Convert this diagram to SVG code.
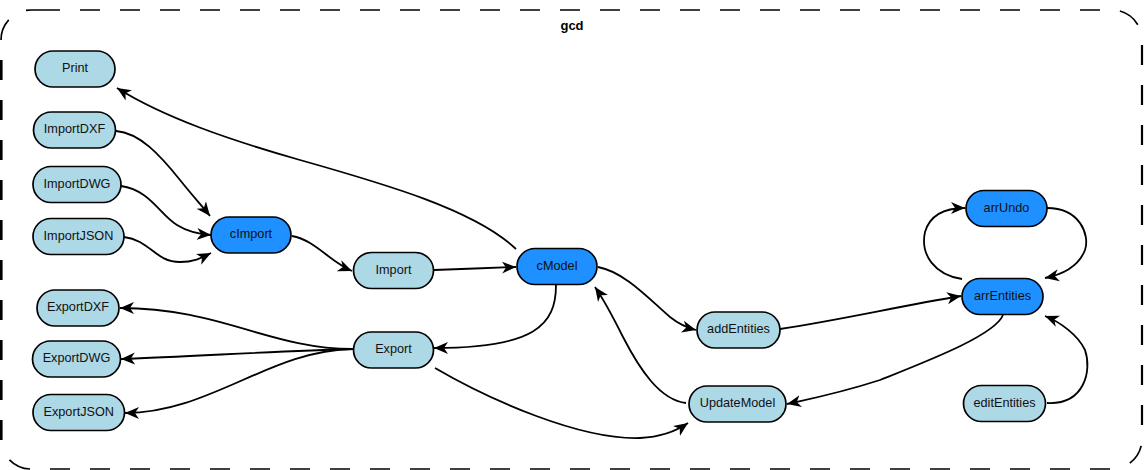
<svg xmlns="http://www.w3.org/2000/svg" width="1144" height="470" viewBox="0 0 1144 470">
<defs>
<style>
.bd{fill:none;stroke:#000;stroke-width:1.7}
.n rect{stroke:#000;stroke-width:1.7}
.l rect{fill:#add8e6}
.d rect{fill:#1e90ff}
.n text{font-family:"Liberation Sans",Arial,sans-serif;font-size:12.7px;fill:#111;text-anchor:middle}
.e path{fill:none;stroke:#000;stroke-width:1.8;marker-end:url(#a)}
.t{font-family:"Liberation Sans",Arial,sans-serif;font-size:13px;font-weight:bold;text-anchor:middle;fill:#000}
</style>
<marker id="a" viewBox="-14 -6.5 15 13" refX="0" refY="0" markerWidth="15" markerHeight="13" markerUnits="userSpaceOnUse" orient="auto">
<path d="M0,0 L-14,-6 L-10,0 L-14,6 Z" fill="#000"/>
</marker>
</defs>
<rect width="1144" height="470" fill="#fff"/>
<g id="cluster_gcd">
<path class="bd" d="M40,10 H1100" stroke-dasharray="20 20"/>
<path class="bd" d="M1,40 A30,30 0 0 1 31,10 H40" stroke-dasharray="22 20 100"/>
<path class="bd" d="M1100,10 H1112 A30,30 0 0 1 1142,40 V45" stroke-dasharray="0 20 23 100"/>
<path class="bd" d="M1142,45 V439" stroke-dasharray="20 20" style="stroke-width:2.2"/>
<path class="bd" d="M1142,439 A30,30 0 0 1 1112,469" stroke-dasharray="0 7 21 100"/>
<path class="bd" d="M1110,469 H50" stroke-dasharray="20 20"/>
<path class="bd" d="M31,469 A30,30 0 0 1 1,439" stroke-dasharray="0 1 23 100"/>
<path class="bd" d="M1.3,440 V40" stroke-dasharray="20 20" style="stroke-width:2.6"/>
<text class="t" x="572" y="30">gcd</text>
</g>
<g id="edges" class="e">
<path d="M516,249 C475,210 385,184 300,160 C230,140 165,118 117,88"/>
<path d="M116,131 C140,133 160,155 180,180 C192,195 202,206 210,216"/>
<path d="M121,186 C150,190 160,215 177,225 C188,232 198,234 211,235"/>
<path d="M124,237 C150,240 155,262 180,262 C195,262 203,257 211,253"/>
<path d="M292,236 C315,240 330,262 352,271"/>
<path d="M434,270 C460,269 490,268 516,267"/>
<path d="M556,285 C556,325 535,348 434,348"/>
<path d="M353,349 C270,349 220,308 120,308"/>
<path d="M353,349 C280,351 200,356 121,359"/>
<path d="M353,349 C270,350 210,413 125,413"/>
<path d="M435,368 C490,400 580,440 640,438 C660,437 675,432 688,423"/>
<path d="M686,403 C660,400 640,370 623,337 C612,315 604,300 595,287"/>
<path d="M598,267 C625,272 650,300 670,317 C680,325 688,328 696,330"/>
<path d="M780,329 C840,320 900,306 961,296"/>
<path d="M1003,315 C995,335 930,360 880,380 C840,393 810,399 787,404"/>
<path d="M962,279 C935,275 920,255 925,232 C930,215 945,208 965,208"/>
<path d="M1047,208 C1080,208 1090,235 1085,250 C1078,268 1060,275 1045,278"/>
<path d="M1047,403 C1085,405 1092,370 1085,350 C1078,335 1060,322 1045,316"/>
</g>
<g id="Print" class="n l"><rect x="35" y="51" width="80" height="36" rx="18"/><text x="75" y="72">Print</text></g>
<g id="ImportDXF" class="n l"><rect x="33.5" y="112" width="82" height="36" rx="18"/><text x="74.5" y="133">ImportDXF</text></g>
<g id="ImportDWG" class="n l"><rect x="33" y="166.5" width="88" height="36" rx="18"/><text x="77" y="187.5">ImportDWG</text></g>
<g id="ImportJSON" class="n l"><rect x="33" y="218.5" width="91" height="36" rx="18"/><text x="78.5" y="239.5">ImportJSON</text></g>
<g id="cImport" class="n d"><rect x="211" y="217" width="80" height="36" rx="18"/><text x="251" y="238">cImport</text></g>
<g id="Import" class="n l"><rect x="353.5" y="252.5" width="80" height="36" rx="18"/><text x="393.5" y="273.5">Import</text></g>
<g id="cModel" class="n d"><rect x="517" y="248.5" width="80" height="36" rx="18"/><text x="557" y="269.5">cModel</text></g>
<g id="Export" class="n l"><rect x="353.5" y="332" width="80" height="36" rx="18"/><text x="393.5" y="353">Export</text></g>
<g id="ExportDXF" class="n l"><rect x="37" y="290" width="82" height="36" rx="18"/><text x="78" y="311">ExportDXF</text></g>
<g id="ExportDWG" class="n l"><rect x="32.5" y="341" width="88" height="36" rx="18"/><text x="76.5" y="362">ExportDWG</text></g>
<g id="ExportJSON" class="n l"><rect x="33" y="394.5" width="91.5" height="36" rx="18"/><text x="78.75" y="415.5">ExportJSON</text></g>
<g id="addEntities" class="n l"><rect x="697" y="312" width="83" height="36" rx="18"/><text x="738.5" y="333">addEntities</text></g>
<g id="UpdateModel" class="n l"><rect x="689" y="386" width="97" height="36" rx="18"/><text x="737.5" y="407">UpdateModel</text></g>
<g id="arrUndo" class="n d"><rect x="966" y="190.5" width="81" height="36" rx="18"/><text x="1006.5" y="211.5">arrUndo</text></g>
<g id="arrEntities" class="n d"><rect x="962" y="278.5" width="81" height="36" rx="18"/><text x="1002.5" y="299.5">arrEntities</text></g>
<g id="editEntities" class="n l"><rect x="963.5" y="385.5" width="82" height="36" rx="18"/><text x="1004.5" y="406.5">editEntities</text></g>
</svg>
